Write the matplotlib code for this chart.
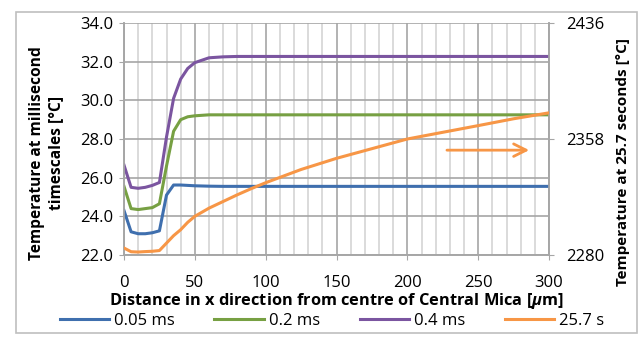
from matplotlib import pyplot as plt
from matplotlib.patches import Rectangle
import numpy as np

plt.rcParams['font.family'] = ['Open Sans', 'DejaVu Sans']
plt.rcParams['mathtext.fontset'] = 'custom'
plt.rcParams['mathtext.it'] = 'Open Sans:italic:bold'

# distance from centre of central mica [um]
distance = [0, 5, 10, 15, 20, 25, 30, 35, 40, 45, 50, 60, 70, 80, 90, 100,
            125, 150, 175, 200, 225, 250, 275, 300]

# millisecond timescales, left axis [C]
temp_005ms = [24.3, 23.2, 23.1, 23.1, 23.15, 23.25, 25.1, 25.62, 25.62, 25.6, 25.58, 25.56,
              25.55, 25.55, 25.55, 25.55, 25.55, 25.55, 25.55, 25.55, 25.55, 25.55, 25.55, 25.55]
temp_02ms = [25.55, 24.4, 24.35, 24.4, 24.45, 24.65, 26.6, 28.4, 29.0, 29.15, 29.2, 29.25,
             29.25, 29.25, 29.25, 29.25, 29.25, 29.25, 29.25, 29.25, 29.25, 29.25, 29.25, 29.25]
temp_04ms = [26.65, 25.5, 25.45, 25.5, 25.6, 25.75, 28.1, 30.1, 31.1, 31.65, 31.95, 32.2,
             32.25, 32.27, 32.27, 32.27, 32.27, 32.27, 32.27, 32.27, 32.27, 32.27, 32.27, 32.27]

# 25.7 s, right axis [C]
temp_257s = [2284.7, 2282.2, 2282.0, 2282.3, 2282.5, 2283.0, 2288.0, 2293.0, 2297.0, 2302.0,
             2306.0, 2311.5, 2316.0, 2320.5, 2324.7, 2328.6, 2337.5, 2345.0, 2351.5, 2358.0,
             2362.5, 2367.0, 2371.6, 2375.6]

labels = ['0.05 ms', '0.2 ms', '0.4 ms', '25.7 s']
colors = ['#3f6fae', '#77a043', '#7b55a0', '#f79646']

left_ticks = [22.0, 24.0, 26.0, 28.0, 30.0, 32.0, 34.0]
right_ticks = [2280, 2358, 2436]
x_ticks = [0, 50, 100, 150, 200, 250, 300]

fig = plt.figure(figsize=(6.42, 3.37), dpi=100)
fig.patches.append(Rectangle((15.5 / 642, 4 / 337), 621 / 642, 321 / 337, transform=fig.transFigure,
                             fill=False, edgecolor='#bfbfbf', linewidth=1.2))

ax = fig.add_axes([124 / 642, 1 - 255 / 337, 425 / 642, 232 / 337])
ax2 = ax.twinx()

lines = []
for vals, lab, col in zip([temp_005ms, temp_02ms, temp_04ms], labels[:3], colors[:3]):
    ln, = ax.plot(distance, vals, color=col, linewidth=2.2, label=lab, zorder=3)
    lines.append(ln)
ln, = ax2.plot(distance, temp_257s, color=colors[3], linewidth=2.2, label=labels[3], zorder=3)
lines.append(ln)

ax.set_xlim(0, 300)
ax.set_ylim(22, 34)
ax2.set_ylim(2280, 2436)
ax.set_xticks(x_ticks)
ax.set_xticks(np.arange(0, 301, 10), minor=True)
ax.set_yticks(left_ticks)
ax.set_yticklabels(['%.1f' % t for t in left_ticks])
ax2.set_yticks(right_ticks)

ax.grid(True, which='minor', axis='x', color='#d4d4d4', linewidth=1.2)
ax.grid(True, which='major', axis='x', color='#a6a6a6', linewidth=1.2)
ax.grid(True, which='major', axis='y', color='#a6a6a6', linewidth=1.2)
ax.set_axisbelow(True)

for a in (ax, ax2):
    for s in a.spines.values():
        s.set_color('#a6a6a6')
        s.set_linewidth(1.2)
    a.spines['top'].set_visible(False)
ax.tick_params(which='major', length=3.5, color='#a6a6a6', labelsize=12)
ax.tick_params(axis='x', pad=11)
ax.tick_params(axis='y', pad=4)
ax.tick_params(which='minor', length=0)
ax2.tick_params(length=3.5, color='#a6a6a6', labelsize=12, pad=9)

ax.set_xlabel('Distance in x direction from centre of Central Mica [$\\mathit{\\mu}$m]',
              fontsize=11.8, fontweight='bold', labelpad=0)
ax.set_ylabel('Temperature at millisecond\ntimescales [°C]', fontsize=11.2,
              fontweight='bold', linespacing=1.3)
ax.yaxis.set_label_coords(-0.14, 0.44)
ax2.set_ylabel('Temperature at 25.7 seconds [°C]', fontsize=11, fontweight='bold')
ax2.yaxis.set_label_coords(1.158, 0.40)

ax2.annotate('', xy=(288, 2350.5), xytext=(226, 2350.5),
             arrowprops=dict(arrowstyle='->,head_length=0.9,head_width=0.45',
                             color=colors[3], linewidth=2))

fig.legend(lines, labels, loc='center', bbox_to_anchor=(332 / 642, 1 - 321 / 337), ncol=4,
           frameon=False, fontsize=12, handlelength=2.95, handletextpad=0.3,
           columnspacing=2.4, borderpad=0, borderaxespad=0)

fig.savefig('out.png', dpi=100)
